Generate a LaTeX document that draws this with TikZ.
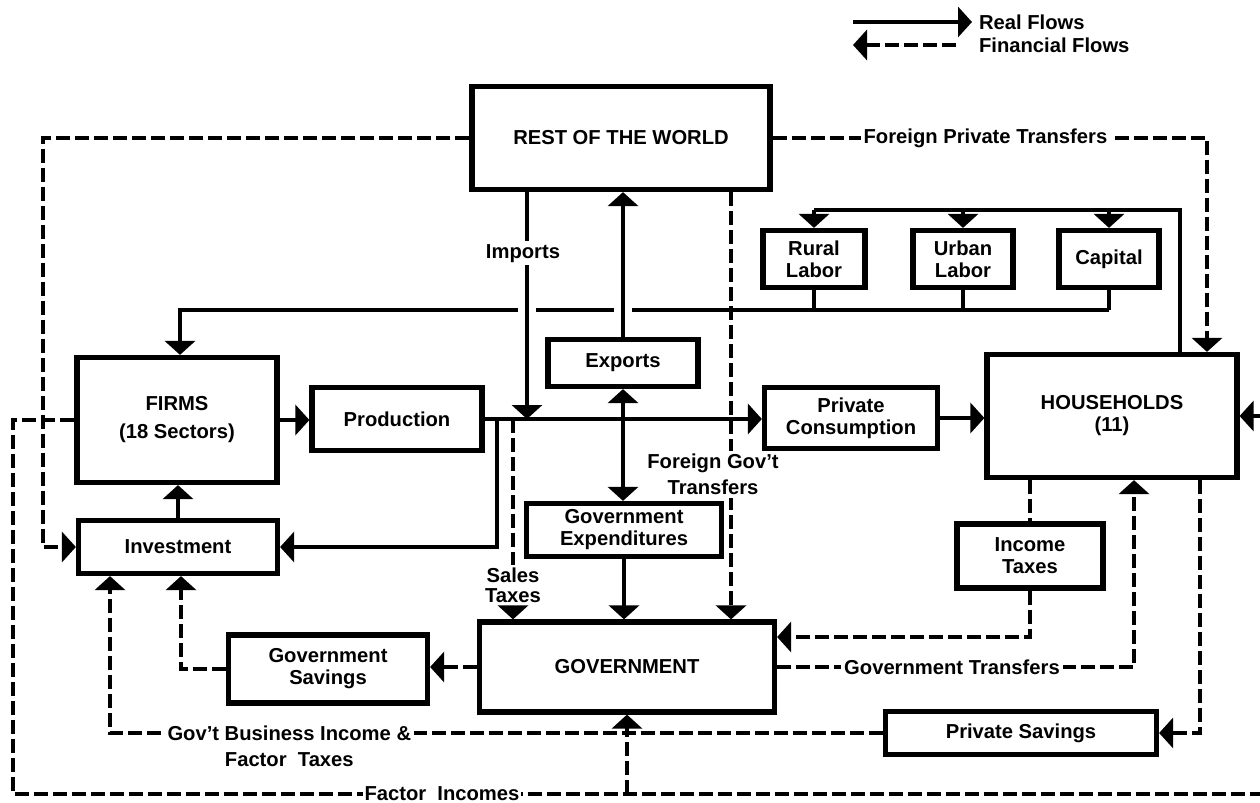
\documentclass[tikz,border=0pt]{standalone}
\usepackage{fontspec}
\setmainfont{Liberation Sans}
\usetikzlibrary{arrows.meta,positioning}

\begin{document}
\begin{tikzpicture}[x=0.5pt,y=-0.5pt,
        font=\bfseries\fontsize{10.1}{11}\selectfont,
        >={Triangle[length=7pt,width=15pt]},
        box/.style={draw,line width=2.6pt,align=center,inner sep=2pt},
        real/.style={line width=1.7pt},
        fin/.style={line width=1.7pt,dash pattern=on 7pt off 2.5pt},
        lbl/.style={fill=white,inner sep=1.5pt,align=center},
        gap/.style={draw=white,line width=4pt}]
        \useasboundingbox (0,0) rectangle (1260,803);
        % Boxes
        \node[box,minimum width=149pt,minimum height=51.5pt] (row) at (621,138) {REST OF THE WORLD};
        \node[box,minimum width=51pt,minimum height=28.5pt] (rural) at (814,259) {Rural\\Labor};
        \node[box,minimum width=50pt,minimum height=28.5pt] (urban) at (963,259) {Urban\\Labor};
        \node[box,minimum width=50pt,minimum height=28.5pt] (capital) at (1109,259) {Capital};
        \node[box,minimum width=100pt,minimum height=62.5pt] (firms) at (177,420) {FIRMS\\[3pt](18 Sectors)};
        \node[box,minimum width=85pt,minimum height=31.5pt] (prod) at (397,419) {Production};
        \node[box,minimum width=99.5pt,minimum height=26.5pt] (invest) at (178,547) {Investment};
        \node[box,minimum width=75pt,minimum height=23.5pt] (exports) at (623,363) {Exports};
        \node[box,minimum width=97.5pt,minimum height=26.5pt] (govexp) at (624,530) {Government\\Expenditures};
        \node[box,minimum width=86.5pt,minimum height=30.5pt] (pc) at (851,418) {Private\\Consumption};
        \node[box,minimum width=125pt,minimum height=61.5pt] (hh) at (1112,416) {HOUSEHOLDS\\(11)};
        \node[box,minimum width=73pt,minimum height=32pt] (inctax) at (1030,556) {Income\\Taxes};
        \node[box,minimum width=147.5pt,minimum height=45pt] (gov) at (627,667) {GOVERNMENT};
        \node[box,minimum width=99.5pt,minimum height=34pt] (govsav) at (328,669) {Government\\Savings};
        \node[box,minimum width=135.5pt,minimum height=21.5pt] (privsav) at (1021,733) {Private Savings};
        % Bend points
        \coordinate (ftop) at (1180,210);
        \coordinate (fbot) at (180,310);
        \coordinate (cimp) at (527,310);
        \coordinate (cexp) at (623,310);
        \coordinate (impx) at (527,0);
        \coordinate (stx) at (513,0);
        \coordinate (pinv) at (497,0);
        \coordinate (fgx) at (731,0);
        \coordinate (fptx) at (1207,0);
        \coordinate (lx) at (43,0);
        \coordinate (fx) at (13,0);
        \coordinate (redge) at (1260,0);
        \coordinate (fline) at (0,794);
        \coordinate (bx) at (110,0);
        \coordinate (sx) at (181,0);
        \coordinate (itl) at (0,637);
        \coordinate (gtx) at (1134,0);
        \coordinate (psx) at (1200,0);
        % Factors
        \draw[real] (hh.north -| ftop) -- (ftop) -- (ftop -| rural.north);
        \draw[real,->] (ftop -| rural.north) -- (rural.north);
        \draw[real,->] (ftop -| urban.north) -- (urban.north);
        \draw[real,->] (ftop -| capital.north) -- (capital.north);
        \draw[real] (rural.south) -- (fbot -| rural.south);
        \draw[real] (urban.south) -- (fbot -| urban.south);
        \draw[real] (capital.south) -- (fbot -| capital.south);
        \draw[real,->] (fbot -| capital.south) -- (fbot) -- (fbot |- firms.north);
        \draw[gap] ([xshift=-4.5pt]cimp) -- ([xshift=4.5pt]cimp);
        \draw[gap] ([xshift=-4.5pt]cexp) -- ([xshift=4.5pt]cexp);
        % Production
        \draw[real,->] (firms.east) -- (firms.east -| prod.west);
        \draw[real,->] (prod.east) -- (prod.east -| pc.west);
        \draw[real,->] (pc.east) -- (pc.east -| hh.west);
        \draw[real,->] (invest.north) -- (invest.north |- firms.south);
        \draw[real,->] (prod.east -| pinv) -- (pinv |- invest.east) -- (invest.east);
        % Imports and exports
        \draw[real,->] (row.south -| impx) -- node[lbl,pos=0.27,xshift=-2pt] (imports) {Imports} (prod.east -| impx);
        \draw[real,->] (exports.north) -- (exports.north |- row.south);
        \draw[real,<->] (exports.south) -- (exports.south |- govexp.north);
        \draw[real,->] (govexp.south) -- (govexp.south |- gov.north);
        % Taxes and transfers
        \draw[fin,->] (prod.east -| stx) -- node[lbl,pos=0.83,font=\bfseries\fontsize{10.1}{9.6}\selectfont] {Sales\\Taxes} (stx |- gov.north);
        \draw[fin,->] (row.south -| fgx) -- node[lbl,pos=0.66,xshift=-9pt,font=\bfseries\fontsize{10.1}{13}\selectfont] {Foreign Gov't\\Transfers} (fgx |- gov.north);
        \draw[fin,->] (row.east) -- node[lbl,pos=0.49] {Foreign Private Transfers} (fptx |- row.east) -- (fptx |- hh.north);
        \draw[fin,->] (row.west) -- (lx |- row.west) -- (lx |- invest.west) -- (invest.west);
        \draw[fin] (inctax.north |- hh.south) -- (inctax.north);
        \draw[fin,->] (inctax.south) -- (inctax.south |- itl) -- (gov.east |- itl);
        \draw[fin,->] (gov.east) -- node[lbl,pos=0.49] {Government Transfers} (gtx |- gov.east) -- (gtx |- hh.south);
        % Savings
        \draw[fin,->] (gov.west) -- (gov.west -| govsav.east);
        \draw[fin,->] (govsav.west) -- (sx |- govsav.west) -- (sx |- invest.south);
        \draw[fin,->] (hh.south -| psx) -- (psx |- privsav.east) -- (privsav.east);
        \draw[fin,->] (privsav.west) -- node[lbl,pos=0.768] (gbi) {Gov't Business Income \&} (bx |- privsav.west) -- (bx |- invest.south);
        \node[below=0pt of gbi] (ftax) {Factor\ \ Taxes};
        % Factor incomes
        \draw[fin] (firms.west) -- (fx |- firms.west) -- (fx |- fline) -- node[lbl,pos=0.344,inner sep=1pt] {Factor\ \ Incomes} (redge |- fline);
        \draw[fin,->] (gov.south |- fline) -- (gov.south);
        \draw[fin,->] (redge |- hh.east) -- (hh.east);
        % Legend
        \node[anchor=west] (lreal) at (972,22) {Real Flows};
        \node[anchor=west] (lfin) at (972,45) {Financial Flows};
        \coordinate (lrs) at (853,22);
        \coordinate (lfs) at (853,45);
        \draw[real,->] (lrs) -- (lreal.west);
        \draw[fin,<-] (lfs) -- ([xshift=-8pt]lfin.west);
\end{tikzpicture}
\end{document}
